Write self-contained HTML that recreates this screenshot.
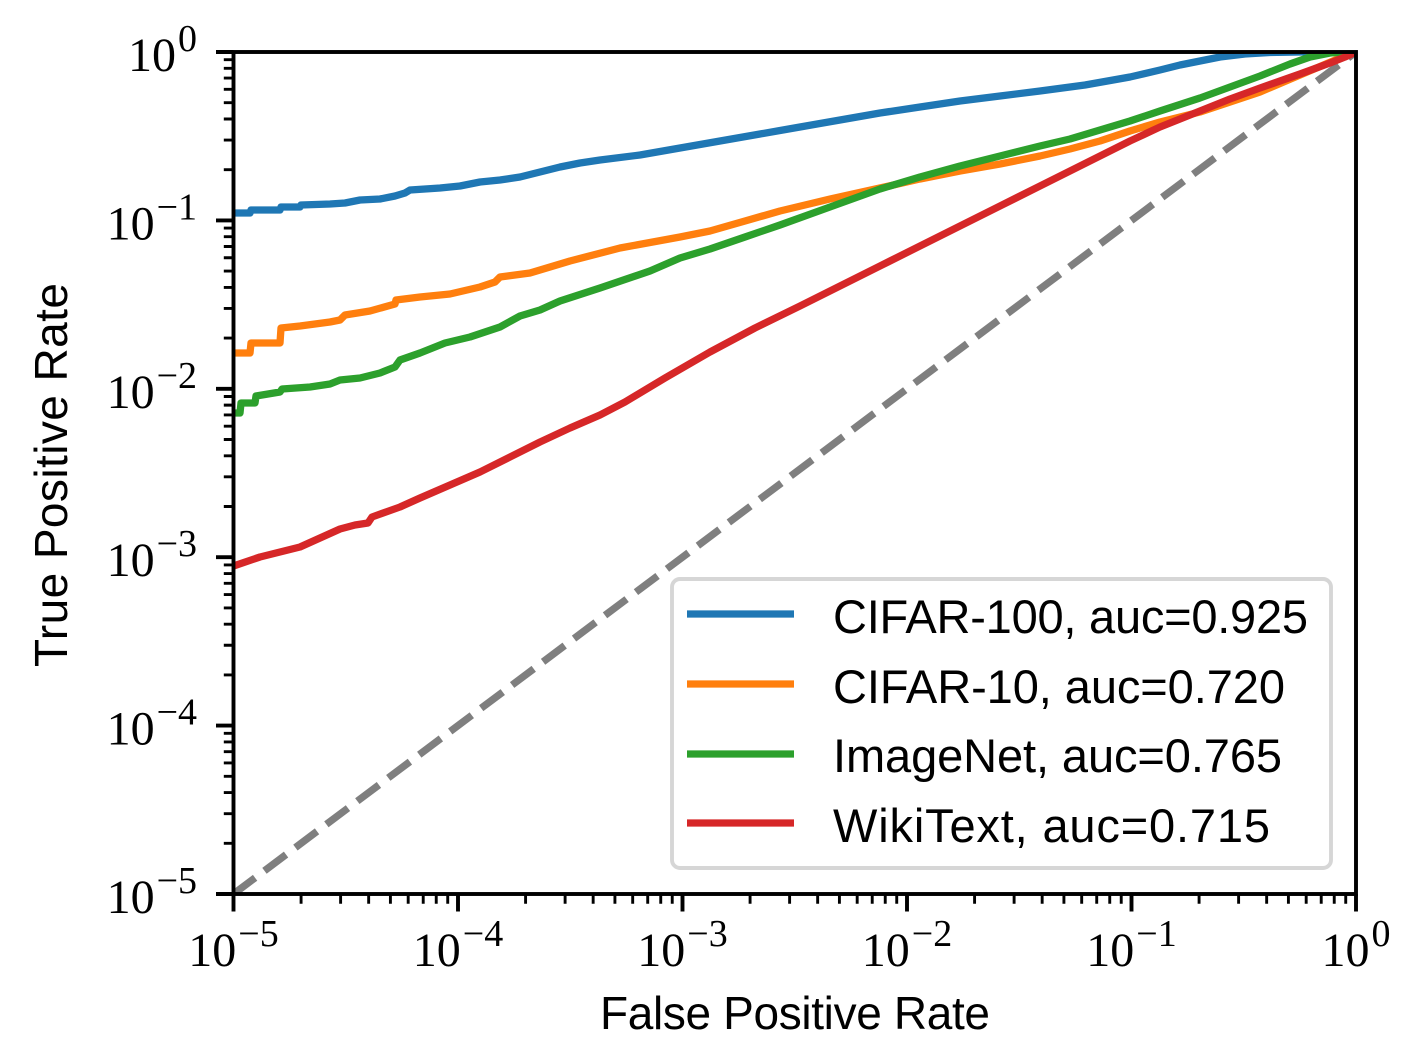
<!DOCTYPE html>
<html>
<head>
<meta charset="utf-8">
<style>
  html, body { margin: 0; padding: 0; background: #ffffff; }
  svg { display: block; }
  .tl { font-family: "Liberation Serif", serif; fill: #000; }
  .sl { font-family: "Liberation Sans", sans-serif; fill: #000; }
</style>
</head>
<body>
<svg width="1421" height="1053" viewBox="0 0 1421 1053" xmlns="http://www.w3.org/2000/svg">
  <rect x="0" y="0" width="1421" height="1053" fill="#ffffff"/>
  <defs>
    <clipPath id="plot">
      <rect x="233.5" y="52" width="1122.5" height="842"/>
    </clipPath>
  </defs>

  <g clip-path="url(#plot)" fill="none" stroke-linejoin="round">
    <!-- diagonal -->
    <line x1="233.5" y1="894" x2="1356" y2="52" stroke="#7f7f7f" stroke-width="7.3" stroke-dasharray="27 11.7"/>
    <!-- CIFAR-100 -->
    <polyline stroke="#1f77b4" stroke-width="7.3" points="233.5,213 250,213 251,210 280,210 281,207 300,207 301,205 330,204 345,203 360,200 380,199 395,196 405,193 410,190 440,188 460,186 480,182 500,180 520,177 540,172 560,167 580,163 600,160 640,155 680,148 720,141 760,134 800,127 840,120 880,113 920,107 960,101 1000,96 1040,91 1085,85 1130,77 1160,70 1180,65 1200,61 1220,57 1245,54 1270,52.5 1300,52 1356,52"/>
    <!-- CIFAR-10 -->
    <polyline stroke="#ff7f0e" stroke-width="7.3" points="233.5,353 250,353 251,343 280,343 281,328 300,326 330,322 340,320 345,315 370,311 395,304 396,300 420,297 450,294 480,287 495,282 500,277 530,273 570,261 620,248 680,237 710,231 745,221 780,211 830,199 880,188 920,179 960,171 1000,164 1040,156 1070,149 1100,141 1130,131 1160,122 1200,112 1230,102 1260,92 1300,75 1340,58 1356,52"/>
    <!-- ImageNet -->
    <polyline stroke="#2ca02c" stroke-width="7.3" points="233.5,413 240,413 241,403 255,403 256,396 280,392 282,389 310,387 330,384 340,380 360,378 380,373 395,367 400,360 420,353 445,343 470,337 500,327 520,316 540,310 560,301 600,288 650,271 680,258 710,249 745,237 780,225 830,207 880,189 920,177 960,166 1000,156 1040,146 1070,139 1100,130 1130,121 1160,111 1200,98 1230,87 1260,76 1290,64 1310,57 1330,53 1345,52 1356,52"/>
    <!-- WikiText -->
    <polyline stroke="#d62728" stroke-width="7.3" points="233.5,566 260,557 300,547 320,538 340,529 355,525 368,523 372,517 400,507 420,498 450,485 480,472 510,457 540,442 570,428 600,415 625,402 665,378 710,352 755,328 800,306 840,286 880,266 920,246 960,226 1000,206 1040,186 1070,171 1100,156 1130,141 1160,127 1200,111 1230,99 1260,88 1300,74 1330,63 1345,57 1356,52"/>
  </g>

  <!-- spines -->
  <rect x="233.5" y="52" width="1122.5" height="842" fill="none" stroke="#000" stroke-width="3.9"/>

  <!-- x ticks -->
  <path stroke="#000" stroke-width="3.9" fill="none" d="M233.5 894V911.5M458 894V911.5M682.5 894V911.5M907 894V911.5M1131.5 894V911.5M1356 894V911.5"/>
  <path stroke="#000" stroke-width="2.9" fill="none" d="
M301.08 894V903.7M340.61 894V903.7M368.66 894V903.7M390.42 894V903.7M408.19 894V903.7M423.22 894V903.7M436.24 894V903.7M447.73 894V903.7
M525.58 894V903.7M565.11 894V903.7M593.16 894V903.7M614.92 894V903.7M632.69 894V903.7M647.72 894V903.7M660.74 894V903.7M672.23 894V903.7
M750.08 894V903.7M789.61 894V903.7M817.66 894V903.7M839.42 894V903.7M857.19 894V903.7M872.22 894V903.7M885.24 894V903.7M896.73 894V903.7
M974.58 894V903.7M1014.11 894V903.7M1042.16 894V903.7M1063.92 894V903.7M1081.69 894V903.7M1096.72 894V903.7M1109.74 894V903.7M1121.23 894V903.7
M1199.08 894V903.7M1238.61 894V903.7M1266.66 894V903.7M1288.42 894V903.7M1306.19 894V903.7M1321.22 894V903.7M1334.24 894V903.7M1345.73 894V903.7"/>

  <!-- y ticks -->
  <path stroke="#000" stroke-width="3.9" fill="none" d="M233.5 52H216M233.5 220.4H216M233.5 388.8H216M233.5 557.2H216M233.5 725.6H216M233.5 894H216"/>
  <path stroke="#000" stroke-width="2.9" fill="none" d="
M233.5 169.71H223.8M233.5 140.05H223.8M233.5 119.01H223.8M233.5 102.69H223.8M233.5 89.36H223.8M233.5 78.09H223.8M233.5 68.32H223.8M233.5 59.71H223.8
M233.5 338.11H223.8M233.5 308.45H223.8M233.5 287.41H223.8M233.5 271.09H223.8M233.5 257.76H223.8M233.5 246.49H223.8M233.5 236.72H223.8M233.5 228.11H223.8
M233.5 506.51H223.8M233.5 476.85H223.8M233.5 455.81H223.8M233.5 439.49H223.8M233.5 426.16H223.8M233.5 414.89H223.8M233.5 405.12H223.8M233.5 396.51H223.8
M233.5 674.91H223.8M233.5 645.25H223.8M233.5 624.21H223.8M233.5 607.89H223.8M233.5 594.56H223.8M233.5 583.29H223.8M233.5 573.52H223.8M233.5 564.91H223.8
M233.5 843.31H223.8M233.5 813.65H223.8M233.5 792.61H223.8M233.5 776.29H223.8M233.5 762.96H223.8M233.5 751.69H223.8M233.5 741.92H223.8M233.5 733.31H223.8"/>

  <!-- x tick labels -->
  <g class="tl" font-size="48" text-anchor="middle">
    <text x="233.5" y="966">10<tspan dx="2" dy="-20" font-size="38">−5</tspan></text>
    <text x="458" y="966">10<tspan dx="2" dy="-20" font-size="38">−4</tspan></text>
    <text x="682.5" y="966">10<tspan dx="2" dy="-20" font-size="38">−3</tspan></text>
    <text x="907" y="966">10<tspan dx="2" dy="-20" font-size="38">−2</tspan></text>
    <text x="1131.5" y="966">10<tspan dx="2" dy="-20" font-size="38">−1</tspan></text>
    <text x="1356" y="966">10<tspan dx="2" dy="-20" font-size="38">0</tspan></text>
  </g>

  <!-- y tick labels -->
  <g class="tl" font-size="48" text-anchor="end">
    <text x="197" y="71">10<tspan dx="2" dy="-20" font-size="38">0</tspan></text>
    <text x="197" y="239.4">10<tspan dx="2" dy="-20" font-size="38">−1</tspan></text>
    <text x="197" y="407.8">10<tspan dx="2" dy="-20" font-size="38">−2</tspan></text>
    <text x="197" y="576.2">10<tspan dx="2" dy="-20" font-size="38">−3</tspan></text>
    <text x="197" y="744.6">10<tspan dx="2" dy="-20" font-size="38">−4</tspan></text>
    <text x="197" y="913">10<tspan dx="2" dy="-20" font-size="38">−5</tspan></text>
  </g>

  <!-- axis labels -->
  <text class="sl" x="795" y="1029" font-size="46" text-anchor="middle" textLength="390">False Positive Rate</text>
  <text class="sl" x="67" y="475" font-size="46" text-anchor="middle" textLength="384" transform="rotate(-90 67 475)">True Positive Rate</text>

  <!-- legend -->
  <rect x="672" y="579" width="659" height="289" rx="8" ry="8" fill="#ffffff" fill-opacity="0.8" stroke="#d6d6d6" stroke-width="3.9"/>
  <g stroke-width="7.3">
    <line x1="687" y1="614" x2="794" y2="614" stroke="#1f77b4"/>
    <line x1="687" y1="684" x2="794" y2="684" stroke="#ff7f0e"/>
    <line x1="687" y1="754" x2="794" y2="754" stroke="#2ca02c"/>
    <line x1="687" y1="823" x2="794" y2="823" stroke="#d62728"/>
  </g>
  <g class="sl" font-size="47">
    <text x="833" y="633" textLength="475">CIFAR-100, auc=0.925</text>
    <text x="833" y="703" textLength="452">CIFAR-10, auc=0.720</text>
    <text x="833" y="772" textLength="449">ImageNet, auc=0.765</text>
    <text x="833" y="842" textLength="437">WikiText, auc=0.715</text>
  </g>
</svg>
</body>
</html>
